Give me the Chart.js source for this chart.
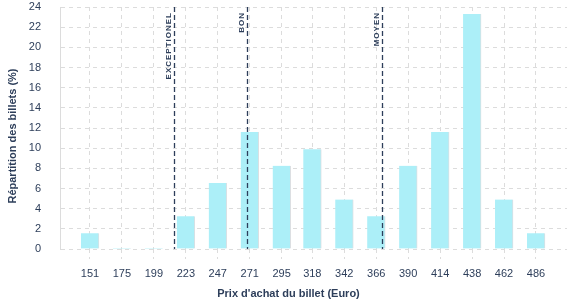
<!DOCTYPE html>
<html>
<head>
<meta charset="utf-8">
<script src="https://cdn.jsdelivr.net/npm/chart.js@4"></script>
<style>
  html, body { margin: 0; padding: 0; background: #ffffff; }
  #wrap { width: 577px; height: 300px; }
</style>
</head>
<body>
<div id="wrap"><canvas id="prixChart"></canvas></div>
<script>
// prix (centre de classe) et répartition des billets en %
const prices = [151, 175, 199, 223, 247, 271, 295, 318, 342, 366, 390, 414, 438, 462, 486];
const shares = [1.55, 0.1, 0.1, 3.25, 6.55, 11.6, 8.25, 9.9, 4.9, 3.25, 8.25, 11.6, 23.3, 4.9, 1.55];
const yTicks = [0, 2, 4, 6, 8, 10, 12, 14, 16, 18, 20, 22, 24];

// seuils de prix
const thresholdNames = ["EXCEPTIONEL", "BON", "MOYEN"];
const thresholdPrices = [214.3, 268.7, 370.1];

const navy = "#2d3e5a";
const gridColor = "#dcdcdc";
const fontFamily = "'Liberation Sans', Arial, sans-serif";

const thresholdPlugin = {
  id: "thresholds",
  afterDatasetsDraw(chart) {
    const { ctx, chartArea, scales } = chart;
    ctx.save();
    thresholdPrices.forEach((p, i) => {
      const x = Math.round(scales.x.getPixelForValue(p)) + 0.5;
      ctx.strokeStyle = navy;
      ctx.lineWidth = 1.3;
      ctx.setLineDash([5, 3]);
      ctx.beginPath();
      ctx.moveTo(x, chartArea.top);
      ctx.lineTo(x, chartArea.bottom);
      ctx.stroke();

      // libellé vertical à gauche de la ligne
      ctx.setLineDash([]);
      ctx.save();
      ctx.translate(x - 4, chartArea.top + 5);
      ctx.rotate(-Math.PI / 2);
      ctx.fillStyle = navy;
      ctx.font = "bold 8px " + fontFamily;
      ctx.letterSpacing = "1px";
      ctx.textAlign = "right";
      ctx.textBaseline = "alphabetic";
      ctx.fillText(thresholdNames[i], 0, 0);
      ctx.restore();
    });
    ctx.restore();
  },
  afterDraw(chart) {
    const { ctx, chartArea } = chart;
    ctx.save();
    ctx.fillStyle = navy;
    ctx.font = "bold 11px " + fontFamily;
    ctx.textAlign = "center";
    ctx.textBaseline = "middle";
    ctx.fillText("Prix d'achat du billet (Euro)", chart.width / 2, 294);
    ctx.translate(13, (chartArea.top + chartArea.bottom) / 2 + 8);
    ctx.rotate(-Math.PI / 2);
    ctx.fillText("Répartition des billets (%)", 0, 0);
    ctx.restore();
  }
};

new Chart(document.getElementById("prixChart"), {
  type: "bar",
  data: {
    datasets: [
      {
        data: prices.map((p, i) => ({ x: p, y: shares[i] })),
        backgroundColor: "#aceff8",
        borderColor: "#dcdfe2",
        borderWidth: { top: 0, right: 1, bottom: 0, left: 0 },
        borderSkipped: false,
        barThickness: 18,
      },
    ],
  },
  options: {
    responsive: true,
    maintainAspectRatio: false,
    animation: false,
    layout: { padding: { top: 7, right: 10, bottom: 0, left: 0 } },
    plugins: {
      legend: { display: false },
      tooltip: { enabled: false },
    },
    scales: {
      x: {
        type: "linear",
        offset: false,
        min: 128.5,
        max: 509.3,
        afterBuildTicks: (scale) => {
          scale.ticks = prices.map((v) => ({ value: v }));
        },
        afterFit: (scale) => {
          scale.height = 51;
        },
        ticks: {
          color: navy,
          font: { family: fontFamily, size: 11 },
          padding: 8,
          maxRotation: 0,
          autoSkip: false,
          callback: (v) => String(v),
        },
        grid: {
          offset: false,
          color: gridColor,
          lineWidth: 1,
          tickLength: 10,
          tickColor: gridColor,
          tickBorderDash: [4, 4],
        },
        border: { display: false, dash: [4, 4] },
      },
      y: {
        min: 0,
        max: 24,
        afterBuildTicks: (scale) => {
          scale.ticks = yTicks.map((v) => ({ value: v }));
        },
        afterFit: (scale) => {
          scale.width = 60;
        },
        ticks: {
          color: navy,
          font: { family: fontFamily, size: 11 },
          padding: 0,
        },
        grid: {
          color: gridColor,
          drawTicks: true,
          tickLength: 19,
          tickColor: "rgba(0,0,0,0)",
        },
        border: { display: true, color: gridColor, dash: [4, 4] },
      },
    },
  },
  plugins: [thresholdPlugin],
});
</script>
</body>
</html>
